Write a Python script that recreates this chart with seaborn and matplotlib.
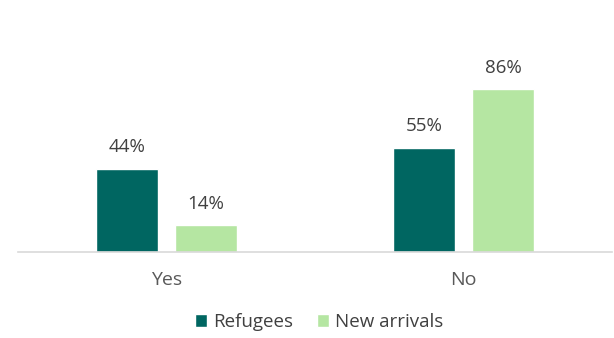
import matplotlib
matplotlib.use("Agg")
import matplotlib.pyplot as plt
import seaborn as sns
import pandas as pd

categories = ["Yes", "No"]
series_names = ["Refugees", "New arrivals"]
refugees = [44, 55]
new_arrivals = [14, 86]
colors = ["#006661", "#b5e6a2"]

df = pd.DataFrame({
    "answer": categories * 2,
    "group": [series_names[0]] * 2 + [series_names[1]] * 2,
    "pct": refugees + new_arrivals,
})

sns.set_theme(style="white")
plt.rcParams["font.family"] = ["Open Sans", "DejaVu Sans"]
text_color = "#404040"

fig = plt.figure(figsize=(6.14, 3.38), dpi=100)
ax = fig.add_axes([18 / 614, 1 - 252 / 338, 594 / 614, 189.5 / 338])

sns.barplot(data=df, x="answer", y="pct", hue="group", order=categories,
            hue_order=series_names, palette=colors, width=0.533, gap=0.216,
            saturation=1, ax=ax, legend=True)

for container in ax.containers:
    ax.bar_label(container, labels=[f"{v:.0f}%" for v in container.datavalues],
                 padding=9, fontsize=13.5, color=text_color)

ax.set_xlim(-0.5, 1.5)
ax.set_ylim(0, 100)
ax.set_xlabel("")
ax.set_ylabel("")
ax.set_yticks([])
ax.tick_params(axis="x", length=0, pad=14, labelsize=14, labelcolor="#595959")
for side in ["left", "right", "top"]:
    ax.spines[side].set_visible(False)
ax.spines["bottom"].set_color("#d9d9d9")
ax.spines["bottom"].set_linewidth(1.2)

handles, labels = ax.get_legend_handles_labels()
ax.legend_.remove()
fig.legend(handles, labels, loc="center", bbox_to_anchor=(319 / 614, 1 - 322 / 338),
           ncol=2, frameon=False, fontsize=13.5, labelcolor=text_color,
           handlelength=0.65, handleheight=0.65, handletextpad=0.3, columnspacing=1.3)

fig.savefig("out.png", dpi=100)
